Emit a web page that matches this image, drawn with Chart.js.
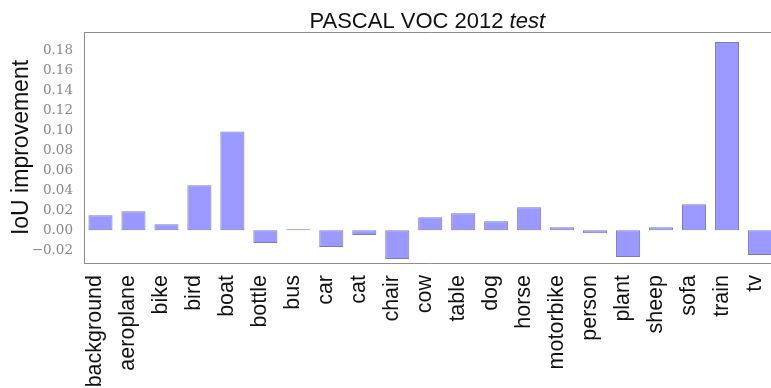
<!DOCTYPE html>
<html>
<head>
<meta charset="utf-8">
<script src="https://cdn.jsdelivr.net/npm/chart.js@4/dist/chart.umd.min.js"></script>
<style>
  html, body { margin: 0; padding: 0; background: #fff; overflow: hidden; }
  #wrap { width: 790px; height: 388px; }
</style>
</head>
<body>
<div id="wrap"><canvas id="c" width="790" height="388"></canvas></div>
<script>
const categories = ["background","aeroplane","bike","bird","boat","bottle","bus","car","cat","chair","cow","table","dog","horse","motorbike","person","plant","sheep","sofa","train","tv"];
const iouImprovement = [0.015,0.019,0.006,0.045,0.099,-0.013,0.001,-0.017,-0.005,-0.029,0.013,0.017,0.009,0.023,0.003,-0.003,-0.027,0.003,0.026,0.189,-0.025];
const titleMain = "PASCAL VOC 2012 ";
const titleItalic = "test";
const yAxisTitle = "IoU improvement";
const yMin = -0.033, yMax = 0.199, yStep = 0.02;

const frameAndTitle = {
  id: 'frameAndTitle',
  afterDatasetsDraw(chart) {
    const ctx = chart.ctx, a = chart.chartArea;
    ctx.save();
    ctx.strokeStyle = '#8c8c8c';
    ctx.lineWidth = 1;
    ctx.beginPath();
    ctx.moveTo(a.left, a.top + 0.5);
    ctx.lineTo(a.right, a.top + 0.5);
    ctx.lineTo(a.right, a.bottom);
    ctx.stroke();
    ctx.restore();
  },
  afterDraw(chart) {
    const ctx = chart.ctx, a = chart.chartArea;
    ctx.save();
    ctx.fillStyle = '#111';
    ctx.textBaseline = 'alphabetic';
    const fMain = '22px "Liberation Sans", Arial, sans-serif';
    const fIt = 'italic 22px "Liberation Sans", Arial, sans-serif';
    ctx.font = fMain; const w1 = ctx.measureText(titleMain).width;
    ctx.font = fIt; const w2 = ctx.measureText(titleItalic).width;
    const cx = (a.left + a.right) / 2 - 3;
    const x0 = cx - (w1 + w2) / 2;
    ctx.font = fMain; ctx.textAlign = 'left';
    ctx.fillText(titleMain, x0, 28);
    ctx.font = fIt;
    ctx.fillText(titleItalic, x0 + w1, 28);
    ctx.restore();
  }
};

new Chart(document.getElementById('c'), {
  type: 'bar',
  data: {
    labels: categories,
    datasets: [{
      data: iouImprovement,
      backgroundColor: '#9999ff',
      borderColor: '#7c7cbc',
      borderWidth: 1,
      borderSkipped: false,
      barPercentage: 0.73,
      categoryPercentage: 1.0
    }]
  },
  options: {
    responsive: false,
    devicePixelRatio: 1,
    animation: false,
    layout: { padding: { top: 32, right: 10, left: 0, bottom: 0 } },
    plugins: {
      legend: { display: false },
      tooltip: { enabled: false },
      title: { display: false }
    },
    scales: {
      x: {
        grid: { display: false },
        border: { display: true, color: '#8c8c8c', width: 1 },
        ticks: {
          autoSkip: false,
          minRotation: 90,
          maxRotation: 90,
          padding: 4,
          labelOffset: -5,
          color: '#111',
          font: { family: '"Liberation Sans", Arial, sans-serif', size: 21.5 }
        },
        afterFit(scale) { scale.height = 125; }
      },
      y: {
        min: yMin,
        max: yMax,
        grid: { display: false },
        border: { display: true, color: '#8c8c8c', width: 1 },
        ticks: {
          stepSize: yStep,
          includeBounds: false,
          padding: 3,
          color: '#8a8a8a',
          font: { family: '"DejaVu Serif", serif', size: 13.5 },
          callback: (v) => {
            const s = Math.abs(v).toFixed(2);
            return v < -1e-9 ? '\u2212' + s : s;
          }
        },
        title: {
          display: true,
          text: yAxisTitle,
          color: '#111',
          padding: { top: 8, bottom: 0 },
          font: { family: '"Liberation Sans", Arial, sans-serif', size: 23 }
        },
        afterFit(scale) { scale.width = 84; }
      }
    }
  },
  plugins: [frameAndTitle]
});
</script>
</body>
</html>
